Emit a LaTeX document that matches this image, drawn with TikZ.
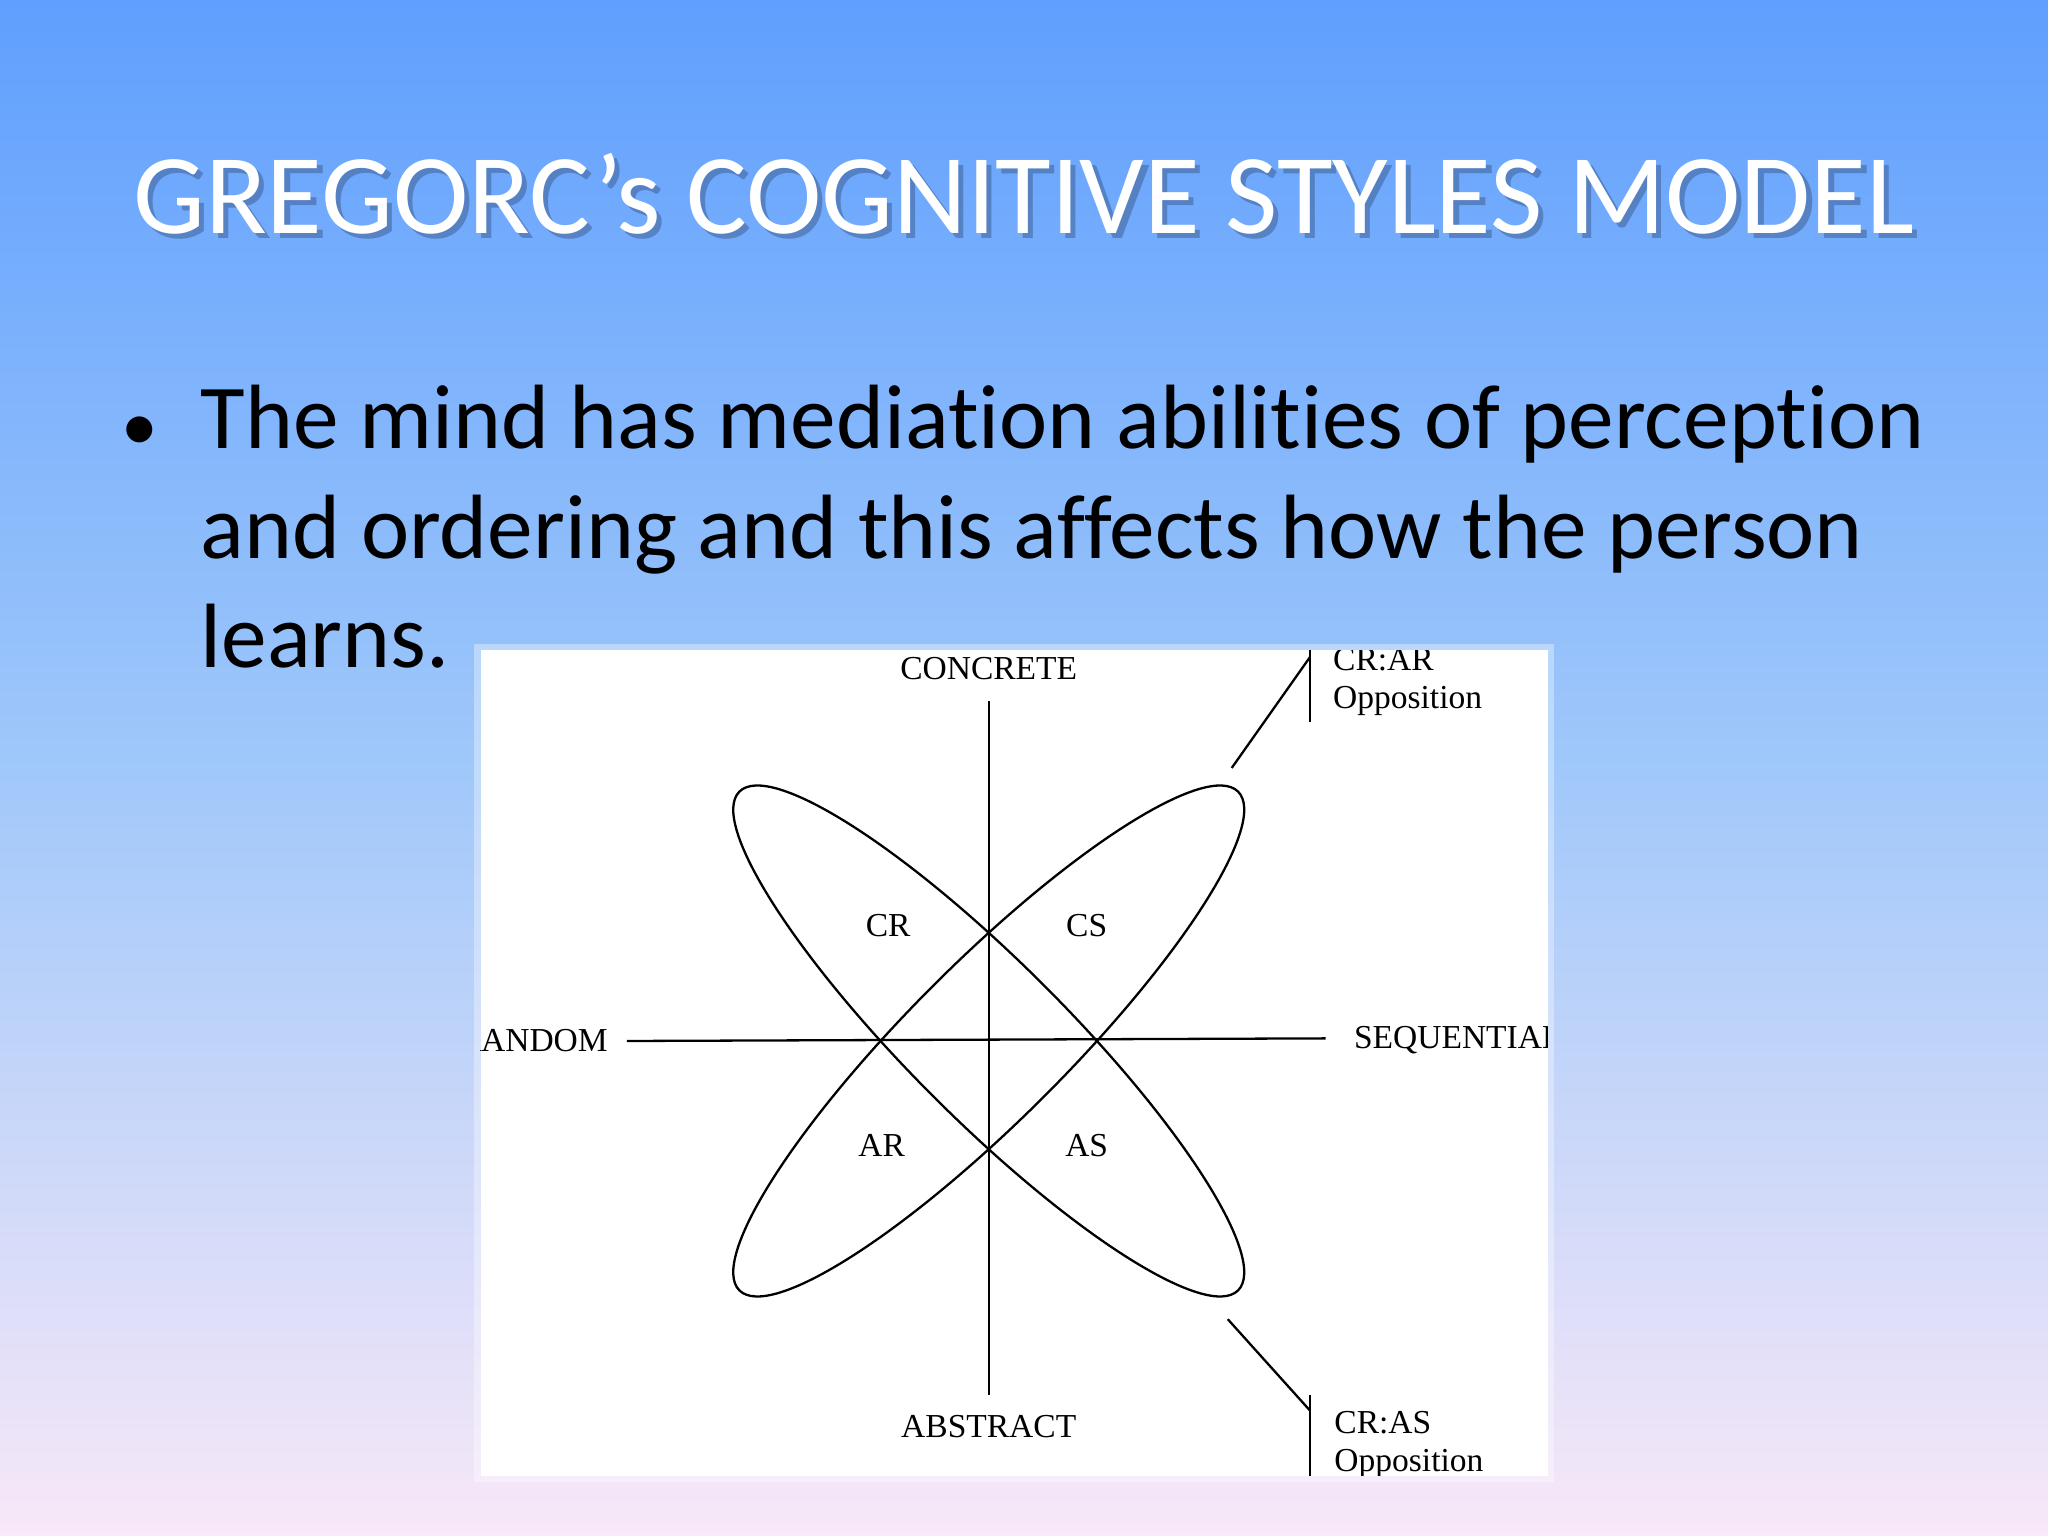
\documentclass[tikz,border=0pt]{standalone}
\usepackage{fontspec}
\setmainfont[Ligatures=NoCommon]{Carlito}
\newfontfamily\dserif{Liberation Serif}
\begin{document}
\begin{tikzpicture}[x=0.1mm,y=-0.1mm,
  dlab/.style={font=\dserif\fontsize{7.3}{8.2}\selectfont,inner sep=0pt},
  ln/.style={line width=0.5pt,black}]
\useasboundingbox (0,0) rectangle (1568,1176);
\shade[top color={rgb,255:red,95;green,159;blue,254},bottom color={rgb,255:red,248;green,232;blue,248},middle color={rgb,255:red,160;green,200;blue,250}] (0,0) rectangle (1568,1176);
% title
\node[text={rgb,255:red,60;green,90;blue,140},opacity=0.5,font=\fontsize{24.8}{28}\selectfont] at (788,152) {GREGORC’s COGNITIVE STYLES MODEL};
\node (title)[text=white,font=\fontsize{24.8}{28}\selectfont] at (784,148) {GREGORC’s COGNITIVE STYLES MODEL};
% bullet
\node (bul)[anchor=base,font=\fontsize{16}{20}\selectfont] at (107,345) {•};
\node (body)[anchor=north west,align=left,inner sep=0pt,font=\fontsize{19.9}{23.9}\selectfont] at (153,294) {The mind has mediation abilities of perception\\and ordering and this affects how the person\\learns.};
% image
\fill[white,opacity=0.35] (363,493) rectangle (1190,1135);
\node (img)[fill=white,minimum width=817*0.1mm,minimum height=632*0.1mm,inner sep=0pt] at (776.5,814) {};
\begin{scope}
\clip (368,498) rectangle (1185,1130);
\coordinate (ct) at (757,537); \coordinate (cb) at (757,1068);
\coordinate (hl) at (480,797); \coordinate (hr) at (1015,795);
\draw[ln] (ct) -- (cb);
\draw[ln] (hl) -- (hr);
\draw[ln,rotate around={45:(757,797)}] (757,797) ellipse (270 and 60);
\draw[ln,rotate around={-45:(757,797)}] (757,797) ellipse (270 and 60);
\coordinate (a1) at (943,588); \coordinate (a2) at (1003,503);
\coordinate (b1) at (940,1010); \coordinate (b2) at (1003,1080);
\draw[ln] (a1) -- (a2);
\draw[ln] (1003,493) -- (1003,553);
\draw[ln] (b1) -- (b2);
\draw[ln] (1003,1068) -- (1003,1135);
\node (con)[dlab] at (757,512) {CONCRETE};
\node (abs)[dlab] at (757,1092) {ABSTRACT};
\node (ran)[dlab,anchor=east] at (466,797) {RANDOM};
\node (seq)[dlab,anchor=west] at (1036,796) {SEQUENTIAL};
\node (cr)[dlab] at (680,709) {CR};
\node (cs)[dlab] at (832,709) {CS};
\node (ar)[dlab] at (675,877) {AR};
\node (as)[dlab] at (832,877) {AS};
\node (o1)[dlab,anchor=north west,align=left] at (1020,496) {CR:AR\\Opposition};
\node (o2)[dlab,anchor=north west,align=left] at (1021,1080) {CR:AS\\Opposition};
\end{scope}
\end{tikzpicture}
\end{document}
